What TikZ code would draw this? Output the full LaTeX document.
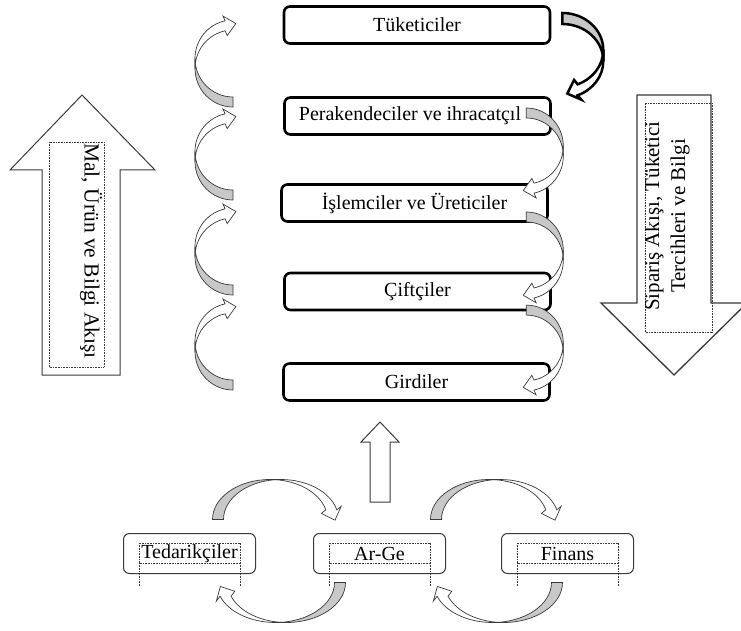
\documentclass[tikz,border=0pt]{standalone}
\usepackage{fontspec}
\setmainfont{Liberation Serif}
\usetikzlibrary{calc}
\definecolor{seritgri}{HTML}{C8C8C8}
\definecolor{cizgi}{HTML}{3A3A3A}
\newcommand{\metin}{\fontsize{20}{26}\selectfont}
\newcommand{\okmetin}{\fontsize{21}{26}\selectfont}

\tikzset{
  kutu/.style={draw, line width=2.6pt, rounded corners=6pt, minimum width=266pt,
               minimum height=37pt, inner sep=0pt, font=\metin},
  altkutu/.style={draw=cizgi, line width=1pt, rounded corners=6pt, minimum width=132pt,
                  minimum height=40pt, inner sep=0pt, font=\metin},
  noktali/.style={draw=cizgi, line width=0.8pt, dash pattern=on 0.8pt off 0.8pt},
  buyukok/.style={draw=cizgi, line width=1pt, fill=white},
  serit kalem/.style={draw=cizgi, line width=0.7pt},
  % kivrik serit ok: #1 yatay yaricap, #2 dikey yaricap, #3 serit kalinligi, #4 bitis acisi
  pics/serit/.style n args={4}{code={
    \pgfmathsetmacro\sAx{#1*cos(#4)}
    \pgfmathsetmacro\sAy{#2*sin(#4)}
    \pgfmathsetmacro\sL{sqrt((#1*sin(#4))^2+(#2*cos(#4))^2)}
    \pgfmathsetmacro\sDx{#1*sin(#4)/\sL}
    \pgfmathsetmacro\sDy{-#2*cos(#4)/\sL}
    \pgfmathsetmacro\sMy{\sAy+#3/2}
    \pgfmathsetmacro\sH{#3/2+5}
    % arka yuz
    \filldraw[serit kalem, fill=seritgri] (0,-#2)
      arc[start angle=270, end angle=180, x radius=#1, y radius=#2] -- ++(0,#3)
      arc[start angle=180, end angle=270, x radius=#1, y radius=#2] -- cycle;
    % on yuz ve uc
    \filldraw[serit kalem, fill=white] (-#1,0)
      arc[start angle=180, end angle=#4, x radius=#1, y radius=#2]
      -- ({\sAx+\sH*\sDy},{\sMy-\sH*\sDx})
      -- ({\sAx+11*\sDx},{\sMy+11*\sDy})
      -- ({\sAx-\sH*\sDy},{\sMy+\sH*\sDx})
      -- (\sAx,{\sAy+#3})
      arc[start angle=#4, end angle=180, x radius=#1, y radius=#2] -- cycle;
  }}
}

\begin{document}
\begin{tikzpicture}[x=1pt, y=1pt]
  \clip (0,0) rectangle (741,630);
  % zincir kutulari
  \node[kutu] (tuk) at (417,605) {Tüketiciler};
  \node[kutu] (per) at (417.5,514) {Perakendeciler ve ihracatçıl\hspace*{15pt}};
  \node[kutu] (isl) at (414.5,427) {İşlemciler ve Üreticiler};
  \node[kutu] (cif) at (417.5,338.5) {Çiftçiler};
  \node[kutu] (gir) at (416.5,248) {Girdiler};

  % alt kutular
  \node[altkutu] (ted) at (189.5,76.5) {Tedarikçiler};
  \node[altkutu] (arge) at (379.5,76.5) {Ar-Ge};
  \node[altkutu] (fin) at (567.5,76.5) {Finans};
  \foreach \k in {ted,arge,fin} {
    \draw[noktali] ($(\k.center)+(-50.5,10.5)$) rectangle ($(\k.center)+(50.5,-9.5)$);
    \draw[noktali] ($(\k.center)+(-50.5,-9.5)$) -- ++(0,-23);
    \draw[noktali] ($(\k.center)+(50.5,-9.5)$) -- ++(0,-23);
  }

  % buyuk oklar
  \draw[buyukok] (42,255) -- (42,460) -- (10,460) -- (82,535) -- (155,460)
    -- (120,460) -- (120,255) -- cycle;
  \draw[noktali] (49,263) rectangle (104,488);
  \node[rotate=-90, anchor=west, inner sep=0pt, font=\fontsize{21.5}{26}\selectfont]
    (solyazi) at (91,487) {Mal, Ürün ve Bilgi Akışı};

  \draw[buyukok, line width=1.3pt] (637,327) -- (637,535) -- (711,535) -- (711,327)
    -- (747,327) -- (674,255) -- (601,327) -- cycle;
  \draw[noktali] (645,298) rectangle (712,527);
  \begin{scope}
    \clip (645,298) rectangle (712,527);
    \node[rotate=90, align=center, inner sep=0pt, font=\okmetin] (sagyazi) at (667,414)
      {Sipariş Akışı, Tüketici\\Tercihleri ve Bilgi};
  \end{scope}

  \draw[buyukok] ($(arge.north)+(-9.5,31)$) -- ++(0,60) -- ++(-9,0) -- ++(19,20)
    -- ++(19,-20) -- ++(-9,0) -- ++(0,-60) -- cycle;

  % sol serit oklar
  \foreach \y in {561.5,468.5,373.5,278.5}
    \pic at (233,\y) {serit={38}{38.5}{10}{102}};

  % sag serit oklar
  \pic[rotate=180, serit kalem/.style={draw=black, line width=2.5pt}]
    at ($(tuk.east)+(11,-25)$) {serit={41}{37}{11}{112}};
  \pic[rotate=180] at ($(per.east)+(-25.5,-30)$) {serit={37}{38}{10}{102}};
  \pic[rotate=180] at ($(isl.east)+(-22.5,-47.4)$) {serit={37}{38.4}{10}{102}};
  \pic[rotate=180] at ($(cif.east)+(-25.5,-51.5)$) {serit={37}{37.9}{10}{102}};

  % alt serit oklar
  \pic[rotate=-90] at ($(ted.north east)+(14,13.5)$) {serit={40}{57.5}{11}{104}};
  \pic[rotate=-90] at ($(arge.north east)+(43,13.5)$) {serit={40}{58.5}{11}{104}};
  \pic[rotate=90] at ($(arge.south west)+(-26.5,-8.5)$) {serit={40}{59}{11}{110}};
  \pic[rotate=90] at ($(fin.south west)+(2.5,-8.5)$) {serit={40}{59}{11}{110}};
\end{tikzpicture}
\end{document}
